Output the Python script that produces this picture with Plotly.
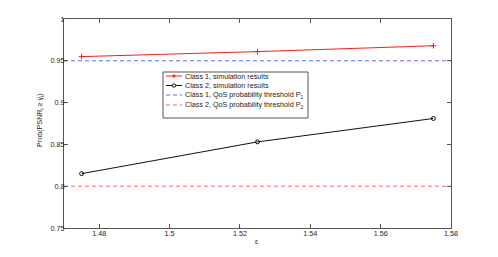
import plotly.graph_objects as go

eps = [1.475, 1.525, 1.575]
class1_sim = [0.955, 0.961, 0.968]
class2_sim = [0.815, 0.853, 0.881]
thr1 = 0.95
thr2 = 0.80
x_range = [1.47, 1.58]
y_range = [0.75, 1.0]
x_ticks = [1.48, 1.50, 1.52, 1.54, 1.56, 1.58]
x_ticklabels = ["1.48", "1.5", "1.52", "1.54", "1.56", "1.58"]
y_ticks = [0.75, 0.80, 0.85, 0.90, 0.95, 1.00]
y_ticklabels = ["0.75", "0.8", "0.85", "0.9", "0.95", "1"]
legend_names = ["Class 1, simulation results",
                "Class 2, simulation results",
                "Class 1, QoS probability threshold P<sub>1</sub>",
                "Class 2, QoS probability threshold P<sub>2</sub>"]
x_title = "ε"
y_title = "Prob(PSNR<sub>i</sub> ≥ γ<sub>i</sub>)"

FONT = "Liberation Sans, Arial, sans-serif"
FS = 7.2
TXT = "#222222"
AX = "#555555"
RED = "#ff1a1a"
BLACK = "#111111"
BLUE = "#5a6cff"
LRED = "#ff6060"
DASH = "4px,3px"

OFF = 8  # page body margin
W, H = 498 - OFF, 257 - OFF
ML, MR, MT, MB = 64 - OFF, 47, 19 - OFF, 29
PW, PH = W - ML - MR, H - MT - MB


def px(X):
    return (X - OFF - ML) / PW


def py(Y):
    return (OFF + H - MB - Y) / PH


fig = go.Figure()
fig.add_trace(go.Scatter(x=eps, y=class1_sim, mode="lines+markers", showlegend=False,
                         line=dict(color=RED, width=1),
                         marker=dict(symbol="cross-thin", size=4, line=dict(color=RED, width=1))))
fig.add_trace(go.Scatter(x=eps, y=class2_sim, mode="lines+markers", showlegend=False,
                         line=dict(color=BLACK, width=1),
                         marker=dict(symbol="circle-open", size=4, color=BLACK,
                                     line=dict(color=BLACK, width=1))))
fig.add_trace(go.Scatter(x=x_range, y=[thr1, thr1], mode="lines", showlegend=False,
                         line=dict(color=BLUE, width=1, dash=DASH)))
fig.add_trace(go.Scatter(x=x_range, y=[thr2, thr2], mode="lines", showlegend=False,
                         line=dict(color=LRED, width=1, dash=DASH)))

# custom compact legend (MATLAB style)
LX0, LX1, LY0, LY1 = 163, 308, 72, 118
rows = [76, 85.5, 95, 105]
styles = [(RED, "solid"), (BLACK, "solid"), (BLUE, DASH), (LRED, DASH)]
shapes = [dict(type="rect", xref="paper", yref="paper", x0=px(LX0), x1=px(LX1),
               y0=py(LY1), y1=py(LY0), line=dict(color=AX, width=1), fillcolor="white",
               layer="above")]
annotations = []
for name, yy, (c, d) in zip(legend_names, rows, styles):
    shapes.append(dict(type="line", xref="paper", yref="paper", x0=px(166), x1=px(182),
                       y0=py(yy), y1=py(yy), line=dict(color=c, width=1, dash=d), layer="above"))
    annotations.append(dict(text=name, xref="paper", yref="paper", x=px(183), y=py(yy),
                            xanchor="left", yanchor="middle", showarrow=False,
                            font=dict(family=FONT, size=FS, color=TXT)))
# legend markers
shapes.append(dict(type="line", xref="paper", yref="paper", x0=px(172), x1=px(176),
                   y0=py(rows[0]), y1=py(rows[0]), line=dict(color=RED, width=1), layer="above"))
shapes.append(dict(type="line", xref="paper", yref="paper", x0=px(174), x1=px(174),
                   y0=py(rows[0] - 2), y1=py(rows[0] + 2), line=dict(color=RED, width=1), layer="above"))
shapes.append(dict(type="circle", xref="paper", yref="paper", x0=px(172.3), x1=px(175.7),
                   y0=py(rows[1] + 1.7), y1=py(rows[1] - 1.7), line=dict(color=BLACK, width=1),
                   fillcolor="white", layer="above"))

# axis titles
annotations.append(dict(text=x_title, xref="paper", yref="paper", x=px(257), y=py(242),
                        xanchor="center", yanchor="middle", showarrow=False,
                        font=dict(family=FONT, size=FS, color=TXT)))
annotations.append(dict(text=y_title, xref="paper", yref="paper", x=px(40), y=py(120),
                        xanchor="center", yanchor="middle", showarrow=False, textangle=-90,
                        font=dict(family=FONT, size=FS, color=TXT)))

axis_common = dict(showgrid=False, zeroline=False, showline=True, linecolor=AX,
                   linewidth=1, mirror="ticks", ticks="inside", ticklen=4,
                   tickcolor=AX, tickfont=dict(family=FONT, size=FS, color=TXT))

fig.update_layout(
    width=W, height=H,
    margin=dict(l=ML, r=MR, t=MT, b=MB, autoexpand=False),
    paper_bgcolor="white", plot_bgcolor="white",
    font=dict(family=FONT, size=FS, color=TXT),
    showlegend=False,
    shapes=shapes, annotations=annotations,
    xaxis=dict(range=x_range, tickvals=x_ticks, ticktext=x_ticklabels,
               ticklabelstandoff=-2, **axis_common),
    yaxis=dict(range=y_range, tickvals=y_ticks, ticktext=y_ticklabels,
               ticklabelstandoff=-3, **axis_common),
)

fig.write_html("out.html")
